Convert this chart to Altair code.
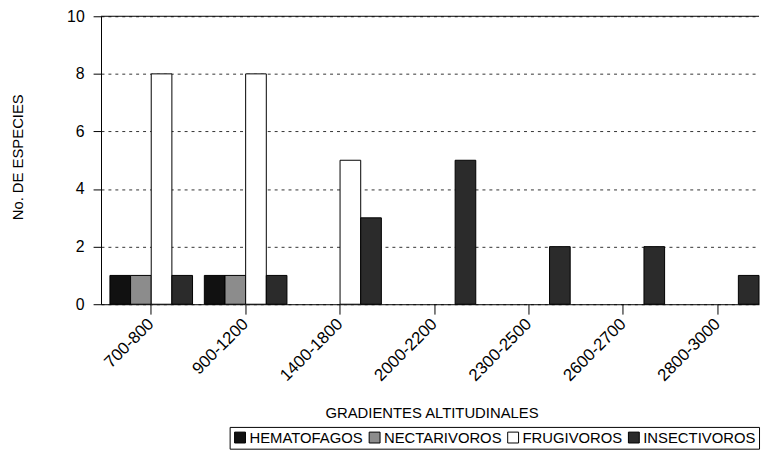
import altair as alt
import pandas as pd

categories = ["700-800", "900-1200", "1400-1800", "2000-2200", "2300-2500", "2600-2700", "2800-3000"]
groups = ["HEMATOFAGOS", "NECTARIVOROS", "FRUGIVOROS", "INSECTIVOROS"]
hematofagos = [1, 1, 0, 0, 0, 0, 0]
nectarivoros = [1, 1, 0, 0, 0, 0, 0]
frugivoros = [8, 8, 5, 0, 0, 0, 0]
insectivoros = [1, 1, 3, 5, 2, 2, 1]
colors = ["#111111", "#8c8c8c", "#ffffff", "#2b2b2b"]
y_ticks = [0, 2, 4, 6, 8, 10]

rows = []
for g, vals in zip(groups, [hematofagos, nectarivoros, frugivoros, insectivoros]):
    for c, v in zip(categories, vals):
        rows.append({"gradiente": c, "grupo": g, "valor": v})
df = pd.DataFrame(rows)

FONT = "Liberation Sans"

bars = alt.Chart(df).transform_filter("datum.valor > 0").mark_bar(
    stroke="black", strokeWidth=1
).encode(
    x=alt.X(
        "gradiente:N",
        sort=categories,
        scale=alt.Scale(domain=categories, paddingInner=0.125, paddingOuter=0.0472, align=1),
        axis=alt.Axis(
            title="GRADIENTES ALTITUDINALES",
            labelAngle=-45,
            labelAlign="right",
            labelBaseline="middle",
            labelPadding=7,
            labelFontSize=17,
            tickSize=10,
            grid=False,
            titleX=334,
            titleY=109,
            titleAlign="center",
            titleBaseline="middle",
        ),
    ),
    xOffset=alt.XOffset(
        "grupo:N", sort=groups,
        scale=alt.Scale(domain=groups, paddingInner=0, paddingOuter=0),
    ),
    y=alt.Y(
        "valor:Q",
        scale=alt.Scale(domain=[0, 10], nice=False),
        axis=alt.Axis(
            title="No. DE ESPECIES",
            values=y_ticks,
            grid=True,
            gridDash=[3, 4],
            gridColor="#333333",
            gridOpacity=1,
            tickSize=8,
            labelPadding=9,
            labelFontSize=16,
            titleX=-84,
            titleY=142,
            titleAngle=270,
            titleAlign="center",
            titleBaseline="middle",
        ),
    ),
    color=alt.Color(
        "grupo:N",
        sort=groups,
        scale=alt.Scale(domain=groups, range=colors),
        legend=alt.Legend(
            title=None,
            orient="none",
            legendX=130,
            legendY=415,
            direction="horizontal",
            strokeColor="black",
            fillColor="white",
            padding=3,
            symbolType="square",
            symbolSize=121,
            symbolStrokeColor="black",
            symbolStrokeWidth=1,
            symbolOpacity=1,
            labelFontSize=15,
            labelFont=FONT,
            labelColor="black",
            labelOffset=2,
            columnPadding=4,
        ),
    ),
)

top_line = alt.Chart(pd.DataFrame({"v": [10]})).mark_rule(color="black", strokeWidth=1).encode(
    y=alt.Y("v:Q")
)

chart = alt.layer(bars, top_line).properties(
    width=665,
    height=291,
    autosize="none",
    padding={"left": 94, "top": 6, "right": 2, "bottom": 149},
).configure_view(stroke=None).configure_axis(
    domainColor="black",
    tickColor="black",
    labelColor="black",
    titleColor="black",
    labelFont=FONT,
    titleFont=FONT,
    labelFontSize=15,
    titleFontSize=15,
    titleFontWeight="normal",
)

chart.save("out.html", embed_options={"renderer": "svg", "actions": False})
